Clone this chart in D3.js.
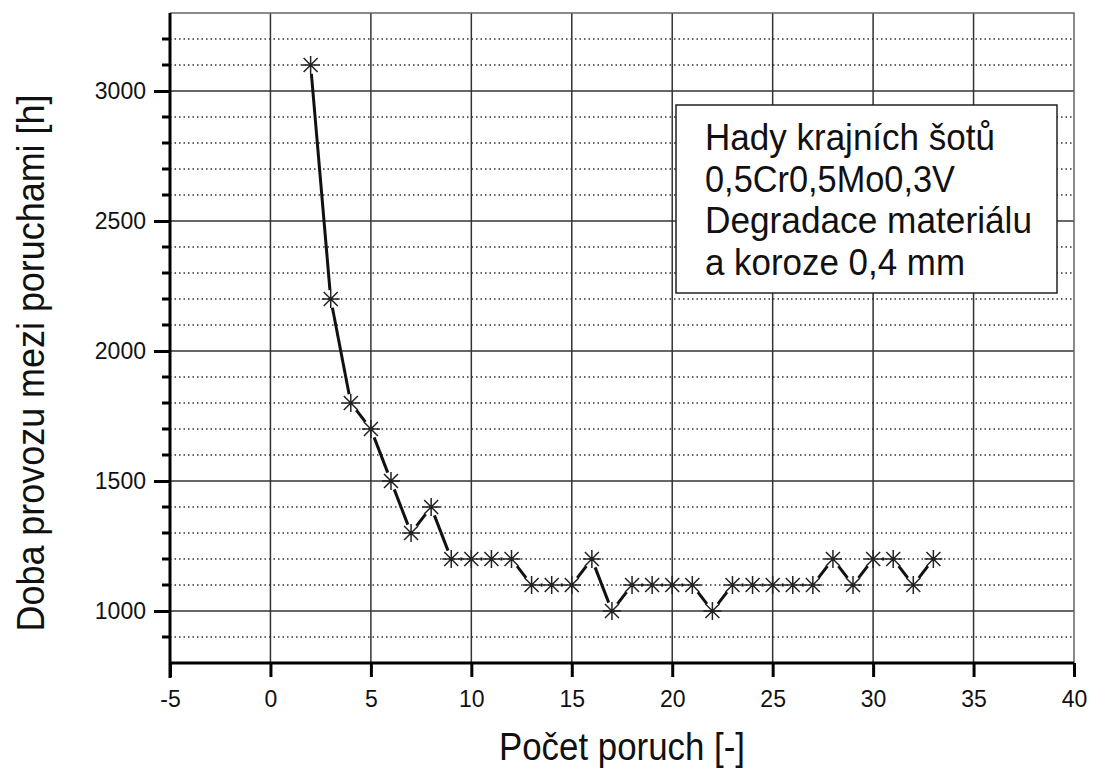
<!DOCTYPE html>
<html>
<head>
<meta charset="utf-8">
<script src="https://cdn.jsdelivr.net/npm/d3@7"></script>
<style>
  body { margin: 0; background: #fff; }
  svg { display: block; font-family: "Liberation Sans", Arial, sans-serif; }
</style>
</head>
<body>
<div id="chart"></div>
<script>
// data
var failures = [2, 3, 4, 5, 6, 7, 8, 9, 10, 11, 12, 13, 14, 15, 16, 17, 18, 19, 20, 21, 22, 23, 24, 25, 26, 27, 28, 29, 30, 31, 32, 33];
var hours = [3100, 2200, 1800, 1700, 1500, 1300, 1400, 1200, 1200, 1200, 1200, 1100, 1100, 1100, 1200, 1000, 1100, 1100, 1100, 1100, 1000, 1100, 1100, 1100, 1100, 1100, 1200, 1100, 1200, 1200, 1100, 1200];
var xTicks = [-5, 0, 5, 10, 15, 20, 25, 30, 35, 40];
var yTicks = [1000, 1500, 2000, 2500, 3000];
var yMinor = [900, 1100, 1200, 1300, 1400, 1600, 1700, 1800, 1900, 2100, 2200, 2300, 2400, 2600, 2700, 2800, 2900, 3100, 3200];
var legendLines = ["Hady krajních šotů", "0,5Cr0,5Mo0,3V", "Degradace materiálu", "a koroze 0,4 mm"];
var xTitle = "Počet poruch [-]";
var yTitle = "Doba provozu mezi poruchami [h]";

var width = 1096, height = 771;
var margin = { top: 13, left: 170, right: 22, bottom: 108 };
var plotW = width - margin.left - margin.right;
var plotH = height - margin.top - margin.bottom;

var svg = d3.select("#chart").append("svg")
  .attr("width", width)
  .attr("height", height);

var x = d3.scaleLinear().domain([-5, 40]).range([margin.left, margin.left + plotW]);
var y = d3.scaleLinear().domain([800, 3300]).range([margin.top + plotH, margin.top]);

var grid = svg.append("g");

// dotted minor horizontal grid
grid.selectAll(".minor")
  .data(yMinor)
  .enter()
  .append("line")
  .attr("class", "minor")
  .attr("x1", x(-5)).attr("x2", x(40))
  .attr("y1", function(d) { return y(d); })
  .attr("y2", function(d) { return y(d); })
  .attr("stroke", "#333")
  .attr("stroke-width", 1.5)
  .attr("stroke-dasharray", "1.5,3");

// solid major grid
grid.selectAll(".hmajor")
  .data(yTicks)
  .enter()
  .append("line")
  .attr("x1", x(-5)).attr("x2", x(40))
  .attr("y1", function(d) { return y(d); })
  .attr("y2", function(d) { return y(d); })
  .attr("stroke", "#333")
  .attr("stroke-width", 1.5);

grid.selectAll(".vmajor")
  .data(xTicks.slice(1, -1))
  .enter()
  .append("line")
  .attr("x1", function(d) { return x(d); })
  .attr("x2", function(d) { return x(d); })
  .attr("y1", y(800)).attr("y2", y(3300))
  .attr("stroke", "#333")
  .attr("stroke-width", 1.5);

// top & right frame
svg.append("path")
  .attr("d", "M" + x(-5) + "," + y(3300) + "H" + x(40) + "V" + y(800))
  .attr("fill", "none")
  .attr("stroke", "#666")
  .attr("stroke-width", 1.5);

// axes
var xAxis = d3.axisBottom(x).tickValues(xTicks).tickSize(14).tickPadding(14)
  .tickFormat(function(d) { return d < 0 ? "-" + Math.abs(d) : String(d); });
var gx = svg.append("g")
  .attr("transform", "translate(0," + y(800) + ")")
  .call(xAxis);
gx.select(".domain").attr("stroke", "#000").attr("stroke-width", 3).attr("d", "M" + x(-5) + ",0H" + x(40));
gx.selectAll(".tick line").attr("stroke", "#000").attr("stroke-width", 3);
gx.selectAll(".tick text")
  .attr("font-size", 23)
  .attr("font-family", "Liberation Sans, Arial, sans-serif")
  .attr("fill", "#111");

var yAxis = d3.axisLeft(y).tickValues(yTicks).tickSize(16).tickPadding(8)
  .tickFormat(d3.format("d"));
var gy = svg.append("g")
  .attr("transform", "translate(" + x(-5) + ",0)")
  .call(yAxis);
gy.select(".domain").attr("stroke", "#000").attr("stroke-width", 3).attr("d", "M0," + (y(800) + 15) + "V" + y(3300));
gy.selectAll(".tick line").attr("stroke", "#000").attr("stroke-width", 3);
gy.selectAll(".tick text")
  .attr("font-size", 23)
  .attr("font-family", "Liberation Sans, Arial, sans-serif")
  .attr("fill", "#111");

gy.selectAll(".minortick")
  .data(yMinor)
  .enter()
  .append("line")
  .attr("x1", -8).attr("x2", 0)
  .attr("y1", function(d) { return y(d); })
  .attr("y2", function(d) { return y(d); })
  .attr("stroke", "#000")
  .attr("stroke-width", 3);

// data line, drawn as segments with gaps around the symbols
var pts = failures.map(function(f, i) { return [x(f), y(hours[i])]; });
var gap = 9;
var segs = [];
for (var i = 0; i < pts.length - 1; i++) {
  var a = pts[i], b = pts[i + 1];
  var dx = b[0] - a[0], dy = b[1] - a[1];
  var len = Math.sqrt(dx * dx + dy * dy);
  if (len <= gap * 2) continue;
  var ux = dx / len, uy = dy / len;
  segs.push([a[0] + ux * gap, a[1] + uy * gap, b[0] - ux * gap, b[1] - uy * gap]);
}
svg.append("g").selectAll("line")
  .data(segs)
  .enter()
  .append("line")
  .attr("x1", function(d) { return d[0]; })
  .attr("y1", function(d) { return d[1]; })
  .attr("x2", function(d) { return d[2]; })
  .attr("y2", function(d) { return d[3]; })
  .attr("stroke", "#111")
  .attr("stroke-width", 3);

// star symbols
var r = 9, rd = 7;
var starPath = "M0," + (-r) + "V" + r + "M" + (-r) + ",0H" + r +
  "M" + (-rd) + "," + (-rd) + "L" + rd + "," + rd +
  "M" + (-rd) + "," + rd + "L" + rd + "," + (-rd);
svg.append("g").selectAll("path")
  .data(pts)
  .enter()
  .append("path")
  .attr("transform", function(d) { return "translate(" + d[0] + "," + d[1] + ")"; })
  .attr("d", starPath)
  .attr("fill", "none")
  .attr("stroke", "#222")
  .attr("stroke-width", 1.5);

// legend box
var lg = svg.append("g");
lg.append("rect")
  .attr("x", 676).attr("y", 105)
  .attr("width", 381).attr("height", 188)
  .attr("fill", "#fff")
  .attr("stroke", "#222")
  .attr("stroke-width", 1.5);
var legendLen = [290, 250, 327, 260];
lg.selectAll("text")
  .data(legendLines)
  .enter()
  .append("text")
  .attr("x", 705)
  .attr("y", function(d, i) { return 150 + i * 41.7; })
  .attr("font-size", 37)
  .attr("textLength", function(d, i) { return legendLen[i]; })
  .attr("lengthAdjust", "spacingAndGlyphs")
  .attr("fill", "#111")
  .text(function(d) { return d; });

// axis titles
svg.append("text")
  .attr("x", (x(-5) + x(40)) / 2)
  .attr("y", 760)
  .attr("text-anchor", "middle")
  .attr("font-size", 38)
  .attr("textLength", 246)
  .attr("lengthAdjust", "spacingAndGlyphs")
  .attr("fill", "#111")
  .text(xTitle);

svg.append("text")
  .attr("transform", "translate(44,363) rotate(-90)")
  .attr("text-anchor", "middle")
  .attr("font-size", 38)
  .attr("textLength", 537)
  .attr("lengthAdjust", "spacingAndGlyphs")
  .attr("fill", "#111")
  .text(yTitle);
</script>
</body>
</html>
